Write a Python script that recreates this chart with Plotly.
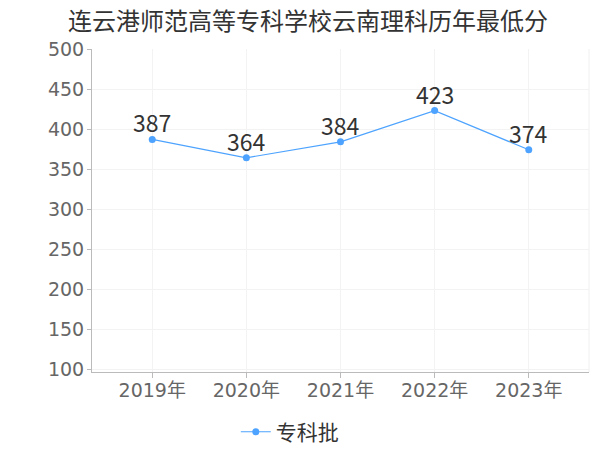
import plotly.graph_objects as go

years = ["2019年", "2020年", "2021年", "2022年", "2023年"]
scores = [387, 364, 384, 423, 374]
series_name = "专科批"
title = "连云港师范高等专科学校云南理科历年最低分"

FONT = "DejaVu Sans, Noto Sans CJK SC, sans-serif"
CJK = "Noto Sans CJK SC, sans-serif"
LINE = "#4da3ff"

fig = go.Figure()
fig.add_trace(go.Scatter(
    x=years, y=scores, name=series_name,
    mode="lines+markers",
    line=dict(color=LINE, width=1.2),
    marker=dict(color=LINE, size=7),
    cliponaxis=False,
))

# value labels above each point
for yr, v in zip(years, scores):
    fig.add_annotation(x=yr, y=v, text=str(v), showarrow=False,
                       yanchor="middle", yshift=17,
                       font=dict(size=23, color="#333333", family=CJK))

# page body adds an 8px offset, margins compensate for it
fig.update_layout(
    width=600, height=450,
    paper_bgcolor="white", plot_bgcolor="white",
    font=dict(family=FONT, color="#666666"),
    title=dict(text=title, x=0.5, xanchor="center", y=0.97, yanchor="middle",
               font=dict(size=24, color="#333333", family=CJK)),
    margin=dict(l=84, r=19, t=41, b=86, autoexpand=False),
    showlegend=True,
    legend=dict(orientation="h", x=0.398, xanchor="center", y=-0.186, yanchor="middle",
                itemwidth=30,
                font=dict(size=21, color="#333333", family=CJK)),
)
fig.update_xaxes(
    range=[-0.64, 4.64], automargin=False,
    showline=True, linecolor="#bbbbbb", linewidth=1,
    ticks="outside", ticklen=5, tickcolor="#bbbbbb",
    ticklabelstandoff=-4,
    showgrid=True, gridcolor="#f3f3f3",
    tickfont=dict(size=19, color="#666666"),
)
fig.update_yaxes(
    range=[96.25, 500], tickvals=[100, 150, 200, 250, 300, 350, 400, 450, 500],
    automargin=False,
    showline=True, linecolor="#bbbbbb", linewidth=1,
    ticks="outside", ticklen=4, tickcolor="#bbbbbb",
    ticklabelstandoff=-1,
    showgrid=True, gridcolor="#f3f3f3", zeroline=False,
    tickfont=dict(size=19, color="#666666"),
)
fig.add_shape(type="line", xref="paper", yref="paper", x0=1, x1=1, y0=0, y1=1,
              line=dict(color="#f0f0f0", width=1))

fig.write_html("out.html")
